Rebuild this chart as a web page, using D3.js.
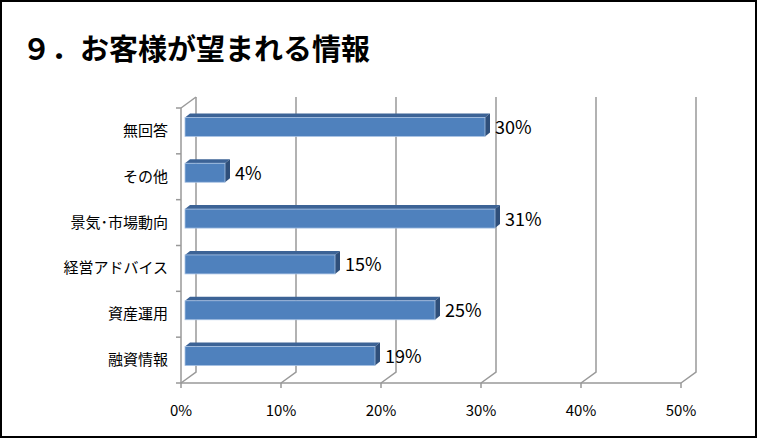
<!DOCTYPE html><html><head><meta charset="utf-8"><script src="https://cdn.jsdelivr.net/npm/d3@7"></script>
<style>body{margin:0;background:#fff}</style></head><body><svg id="c" width="758" height="439"></svg>
<script>
const categories=["無回答","その他","景気･市場動向","経営アドバイス","資産運用","融資情報"];
const values=[30,4,31,15,25,19];
const ticks=[0,10,20,30,40,50];
const svg=d3.select("#c"),F="'Noto Sans CJK JP',sans-serif";
svg.append("rect").attr("x",1).attr("y",1).attr("width",755).attr("height",436).attr("fill","#fff").attr("stroke","#000").attr("stroke-width",2);
svg.append("text").attr("x",22).attr("y",60).attr("font-family",F).attr("font-weight","bold").attr("font-size",29).text("９．お客様が望まれる情報");
const x=d3.scaleLinear().domain([0,50]).range([181,681]);
const y=d3.scaleBand().domain(categories).range([108,383]);
const dx=15,dy=-11,G="#999";
ticks.forEach(t=>{
 svg.append("path").attr("d",`M${x(t)},383L${x(t)+dx},${383+dy}L${x(t)+dx},${108+dy}`).attr("fill","none").attr("stroke",G).attr("stroke-width",1.5);
});
svg.append("path").attr("d",`M181,108L${181+dx},${108+dy}`).attr("stroke",G).attr("stroke-width",1.5);
svg.append("line").attr("x1",181).attr("x2",181).attr("y1",108).attr("y2",383).attr("stroke",G).attr("stroke-width",1.5);
svg.append("line").attr("x1",181).attr("x2",x(50)).attr("y1",383).attr("y2",383).attr("stroke",G).attr("stroke-width",1.5);
d3.range(7).forEach(i=>{const yy=108+i*y.step();svg.append("line").attr("x1",176).attr("x2",181).attr("y1",yy).attr("y2",yy).attr("stroke",G).attr("stroke-width",1.5);});
ticks.forEach(t=>svg.append("line").attr("x1",x(t)).attr("x2",x(t)).attr("y1",383).attr("y2",388).attr("stroke",G).attr("stroke-width",1.5));
const bo=4,bh=19,d=5,dd=-4;
categories.forEach((c,i)=>{
 const x0=x(0)+bo,x1=x(values[i])+bo,yt=y(c)+y.bandwidth()/2-bh/2-4;
 svg.append("path").attr("d",`M${x0},${yt}L${x0+d},${yt+dd}L${x1+d},${yt+dd}L${x1},${yt}Z`).attr("fill","#3c6396");
 svg.append("path").attr("d",`M${x1},${yt}L${x1+d},${yt+dd}L${x1+d},${yt+bh+dd}L${x1},${yt+bh}Z`).attr("fill","#2f4f7a");
 svg.append("rect").attr("x",x0).attr("y",yt).attr("width",x1-x0).attr("height",bh).attr("fill","#4f81bd").attr("stroke","#a8c2e4").attr("stroke-width",0.8);
 svg.append("text").attr("x",x1+d+5).attr("y",yt+bh/2+7).attr("font-family",F).attr("font-size",18).text(values[i]+"%");
 svg.append("text").attr("x",168).attr("y",y(c)+y.bandwidth()/2+5).attr("text-anchor","end").attr("font-family",F).attr("font-size",15).text(c);
});
ticks.forEach(t=>svg.append("text").attr("x",x(t)).attr("y",416).attr("text-anchor","middle").attr("font-family",F).attr("font-size",15).text(t+"%"));
</script></body></html>
